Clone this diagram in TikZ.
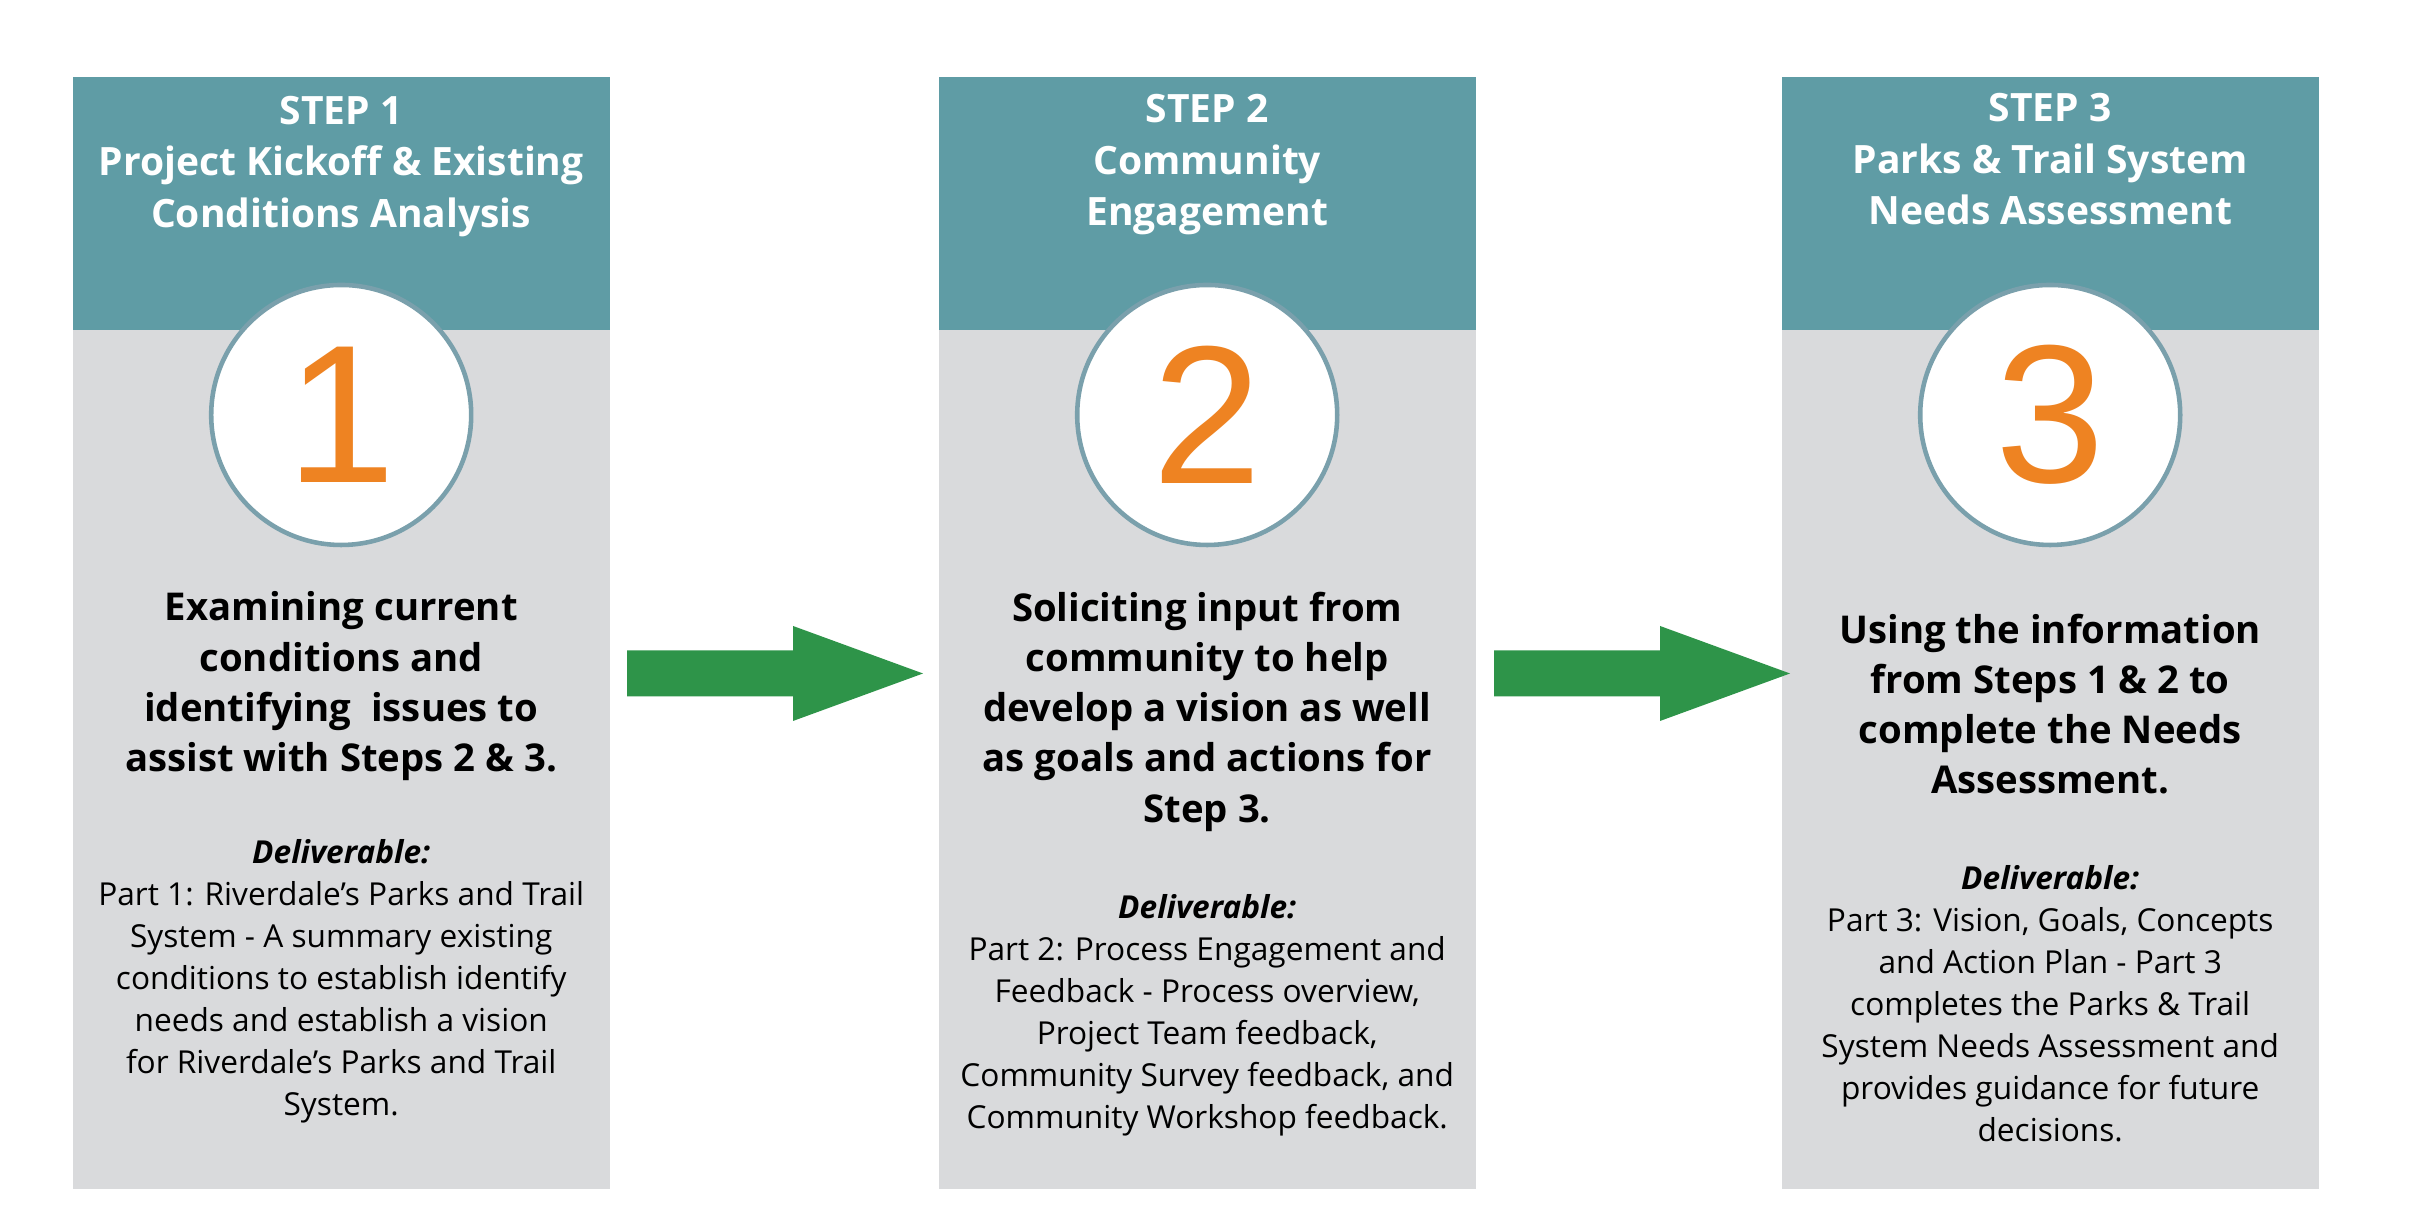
\documentclass[tikz,border=0pt]{standalone}
\usepackage{fontspec}
\setmainfont{Open Sans}
\newfontfamily\digitfont{Liberation Sans}
\usetikzlibrary{positioning,calc}
\definecolor{headteal}{RGB}{95,156,165}
\definecolor{panelgray}{RGB}{217,218,220}
\definecolor{ringblue}{RGB}{122,160,172}
\definecolor{numorange}{RGB}{238,131,34}
\definecolor{arrowgreen}{RGB}{46,148,73}

\begin{document}
\begin{tikzpicture}
\tikzstyle{panel}=[fill=panelgray,inner sep=0pt,minimum width=5.37cm,minimum height=11.12cm,anchor=north west]
\tikzstyle{header}=[fill=headteal,inner sep=0pt,minimum width=5.37cm,minimum height=2.53cm,anchor=north]
\tikzstyle{ring}=[circle,draw=ringblue,line width=1.3pt,fill=white,minimum size=2.6cm,inner sep=0pt,text=numorange,font=\digitfont\fontsize{56}{56}\selectfont]
\tikzstyle{title}=[text=white,align=center,inner sep=0pt,anchor=base,font=\bfseries\fontsize{11.1}{14.65}\selectfont]
\tikzstyle{summary}=[align=center,inner sep=0pt,anchor=base,font=\bfseries\fontsize{10.9}{14.3}\selectfont]
\tikzstyle{deliv}=[align=center,inner sep=0pt,anchor=base,font=\fontsize{9}{11.95}\selectfont]
\useasboundingbox (0,0) rectangle (24.10,12.28);
\fill[white] (0,0) rectangle (24.10,12.28);

% panels
\node[panel] (p1) at (0.72,11.52) {};
\node[panel] (p2) at (9.38,11.52) {};
\node[panel] (p3) at (17.81,11.52) {};
\node[header] (h1) at (p1.north) {};
\node[header] (h2) at (p2.north) {};
\node[header] (h3) at (p3.north) {};

% numbers
\node[ring] (c1) at (p1.north |- 0,8.13) {1};
\node[ring] (c2) at (p2.north |- 0,8.13) {2};
\node[ring] (c3) at (p3.north |- 0,8.13) {3};

% titles (anchored on the last line)
\node[title] (t1) at (p1.north |- 0,10.005) {STEP 1\\Project Kickoff \& Existing\\Conditions Analysis};
\node[title] (t2) at (p2.north |- 0,10.02) {STEP 2\\Community\\Engagement};
\node[title] (t3) at (p3.north |- 0,10.03) {STEP 3\\Parks \& Trail System\\Needs Assessment};

% summaries
\node[summary] (s1) at (p1.north |- 0,4.563) {Examining current\\conditions and\\identifying\ \ issues to\\assist with Steps 2 \& 3.};
\node[summary] (s2) at (p2.north |- 0,4.058) {Soliciting input from\\community to help\\develop a vision as well\\as goals and actions for\\Step 3.};
\node[summary] (s3) at (p3.north |- 0,4.34) {Using the information\\from Steps 1 \& 2 to\\complete the Needs\\Assessment.};

% deliverables
\node[deliv] (d1) at (p1.north |- 0,1.121) {\textbf{\textit{Deliverable:}}\\Part 1: Riverdale’s Parks and Trail\\System - A summary existing\\conditions to establish identify\\needs and establish a vision\\for Riverdale’s Parks and Trail\\System.};
\node[deliv] (d2) at (p2.north |- 0,0.998) {\textbf{\textit{Deliverable:}}\\Part 2: Process Engagement and\\Feedback - Process overview,\\Project Team feedback,\\Community Survey feedback, and\\Community Workshop feedback.};
\node[deliv] (d3) at (p3.north |- 0,0.86) {\textbf{\textit{Deliverable:}}\\Part 3: Vision, Goals, Concepts\\and Action Plan - Part 3\\completes the Parks \& Trail\\System Needs Assessment and\\provides guidance for future\\decisions.};

% arrows
\foreach \s in {6.27,14.94}
  \fill[arrowgreen] (\s,5.775) -- ++(1.66,0) -- ++(0,0.245) -- ++(1.30,-0.475)
    -- ++(-1.30,-0.475) -- ++(0,0.245) -- ++(-1.66,0) -- cycle;
\end{tikzpicture}
\end{document}
